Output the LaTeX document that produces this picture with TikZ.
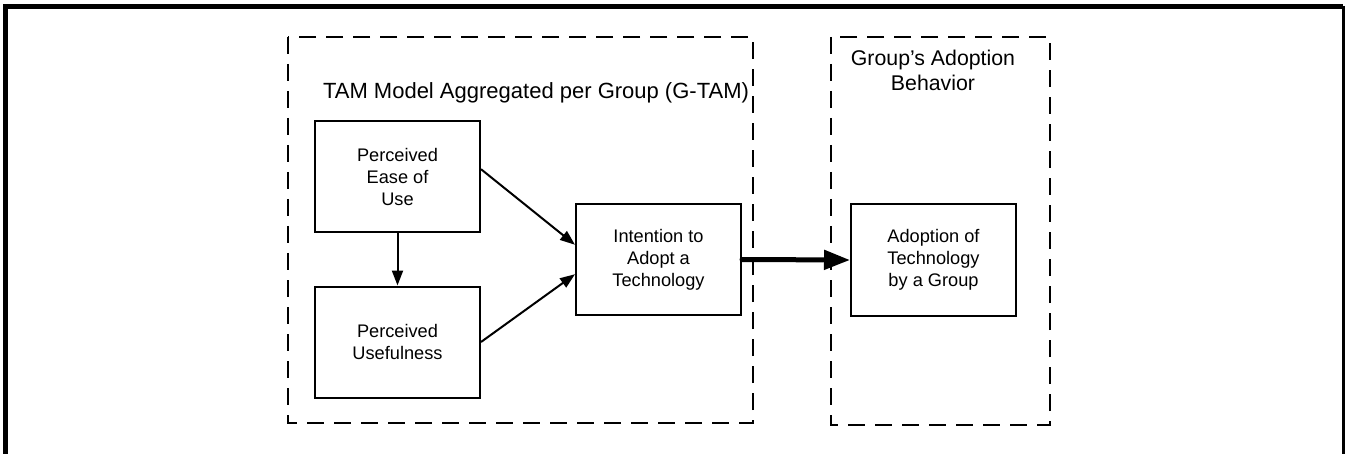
\documentclass[tikz,border=0pt]{standalone}
\usepackage{fontspec}
\setmainfont{Liberation Sans}
\usetikzlibrary{arrows.meta}
\tikzset{
  stage/.style={draw, line width=2pt, minimum width=165pt, minimum height=111pt,
    align=center, inner sep=0pt, font=\fontsize{18.2}{22}\selectfont},
  group/.style={draw, line width=2pt, dash pattern=on 17pt off 10pt},
  link/.style={line width=2pt, -{Triangle[length=15pt,width=11pt]}},
  bold link/.style={line width=5pt, line cap=round, -{Triangle[length=26pt,width=19pt]}},
  heading/.style={align=center, inner sep=0pt, font=\fontsize{22}{25}\selectfont}
}
\begin{document}
\begin{tikzpicture}[x=1pt,y=-1pt]
  \useasboundingbox (0,0) rectangle (1351,454);
  % open frame round the figure
  \draw[line width=5pt] (5.5,454) -- (5.5,6.5) -- (1343,6.5);
  \draw[line width=3pt] (1343,6.5) -- (1343,454);
  % grouping boxes
  \draw[group] (288,37) rectangle (753,423);
  \draw[group] (831,37) rectangle (1050,425);
  \node[heading] (title) at (536,93) {TAM Model Aggregated per Group (G-TAM)};
  \node[heading, font=\fontsize{21.3}{25}\selectfont] (behav) at (933,70) {Group's Adoption\\Behavior};
  % constructs
  \node[stage] (peu) at (397.5,176.5) {Perceived\\Ease of\\Use};
  \node[stage] (pu) at (397.5,342) {Perceived\\Usefulness};
  \node[stage] (int) at (658.5,259.5) {Intention to\\Adopt a\\Technology};
  \node[stage] (adopt) at (933.5,260) {Adoption of\\Technology\\by a Group};
  % relations
  \draw[link] (peu.south) -- (pu.north);
  \draw[link] (peu.5) -- (int.170);
  \draw[link] (pu.east) -- (int.190);
  \draw[bold link] (int.east) -- (adopt.west);
\end{tikzpicture}
\end{document}
